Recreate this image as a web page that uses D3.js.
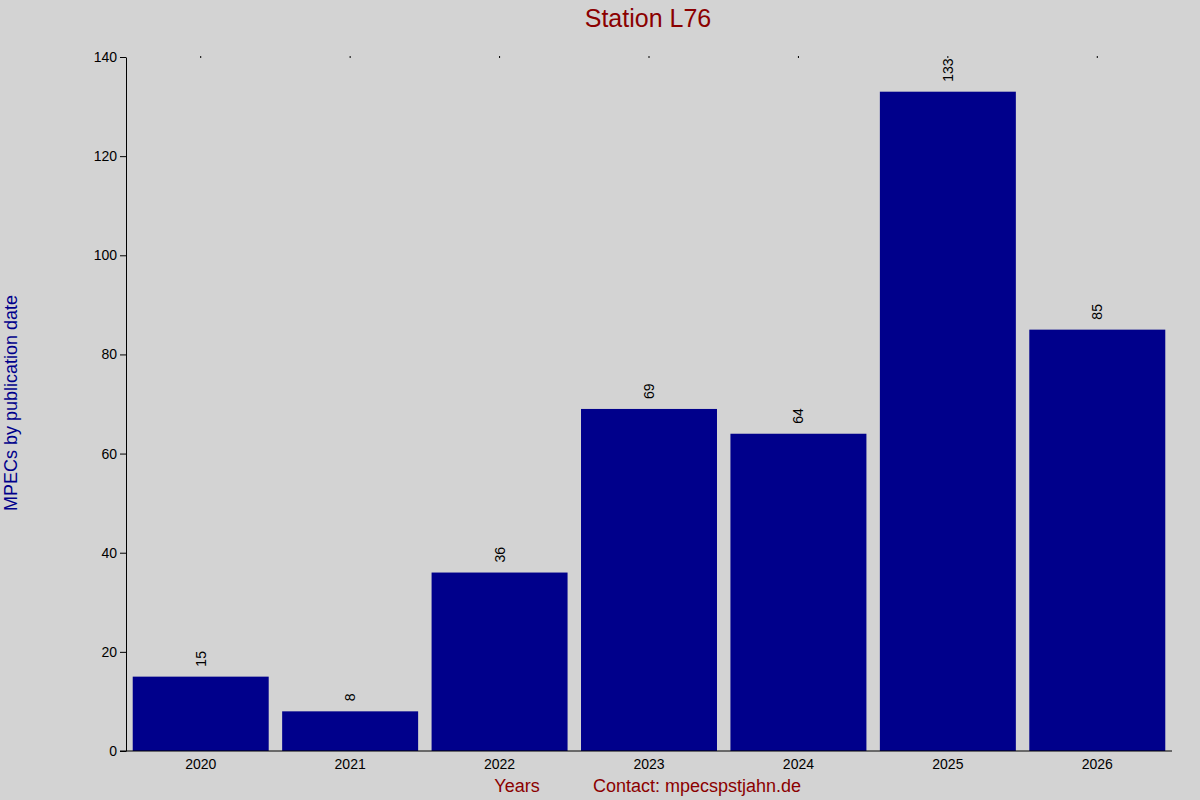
<!DOCTYPE html>
<html><head><meta charset="utf-8">
<script src="https://cdn.jsdelivr.net/npm/d3@7"></script>
<style>body{margin:0;background:#d3d3d3;font-family:"Liberation Sans",Arial,sans-serif}</style>
</head><body><div id="chart"></div>
<script>
const years = ['2020', '2021', '2022', '2023', '2024', '2025', '2026'];
const counts = [15, 8, 36, 69, 64, 133, 85];
const yTicks = [0, 20, 40, 60, 80, 100, 120, 140];

const width = 1200, height = 800;
const m = { top: 57, right: 28, bottom: 49, left: 126 };
const svg = d3.select('#chart').append('svg').attr('width', width).attr('height', height)
  .style('background', '#d3d3d3');

const x = d3.scaleBand().domain(years).range([m.left, width - m.right]).paddingInner(0.09).paddingOuter(0.045);
const y = d3.scaleLinear().domain([0, 140]).range([height - m.bottom, m.top]);

svg.selectAll('rect.bar').data(years).join('rect')
  .attr('x', d => x(d)).attr('width', x.bandwidth())
  .attr('y', (d, i) => y(counts[i])).attr('height', (d, i) => y(0) - y(counts[i]))
  .attr('fill', '#00008b');

svg.selectAll('text.val').data(years).join('text')
  .attr('transform', (d, i) => `translate(${x(d) + x.bandwidth() / 2 + 5},${y(counts[i]) - 10}) rotate(-90)`)
  .attr('font-size', 14).attr('fill', '#000').text((d, i) => counts[i]);

const yAxis = svg.append('g').attr('transform', `translate(${m.left},0)`)
  .call(d3.axisLeft(y).tickValues(yTicks).tickSize(6).tickSizeOuter(0));
yAxis.selectAll('text').attr('font-size', 14).attr('font-family', 'Liberation Sans, Arial').attr('fill', '#000');

const xAxis = svg.append('g').attr('transform', `translate(0,${height - m.bottom})`)
  .call(d3.axisBottom(x).tickSize(0).tickPadding(8));
xAxis.select('.domain').attr('d', `M${m.left - 6},0H${width - m.right}`);
xAxis.selectAll('text').attr('font-size', 14).attr('font-family', 'Liberation Sans, Arial').attr('fill', '#000');

svg.selectAll('line.top').data(years).join('line')
  .attr('x1', d => x(d) + x.bandwidth() / 2).attr('x2', d => x(d) + x.bandwidth() / 2)
  .attr('y1', m.top - 1).attr('y2', m.top + 1).attr('stroke', '#000');

svg.append('text').attr('x', 648).attr('y', 27).attr('text-anchor', 'middle')
  .attr('font-size', 25).attr('fill', '#8b0000').text('Station L76');
svg.append('text').attr('transform', 'translate(17,403) rotate(-90)').attr('text-anchor', 'middle')
  .attr('font-size', 18).attr('fill', '#00008b').text('MPECs by publication date');
svg.append('text').attr('x', 517).attr('y', 792).attr('text-anchor', 'middle')
  .attr('font-size', 18).attr('fill', '#8b0000').text('Years');
svg.append('text').attr('x', 697).attr('y', 792).attr('text-anchor', 'middle')
  .attr('font-size', 18).attr('fill', '#8b0000').text('Contact: mpecspstjahn.de');
</script></body></html>
